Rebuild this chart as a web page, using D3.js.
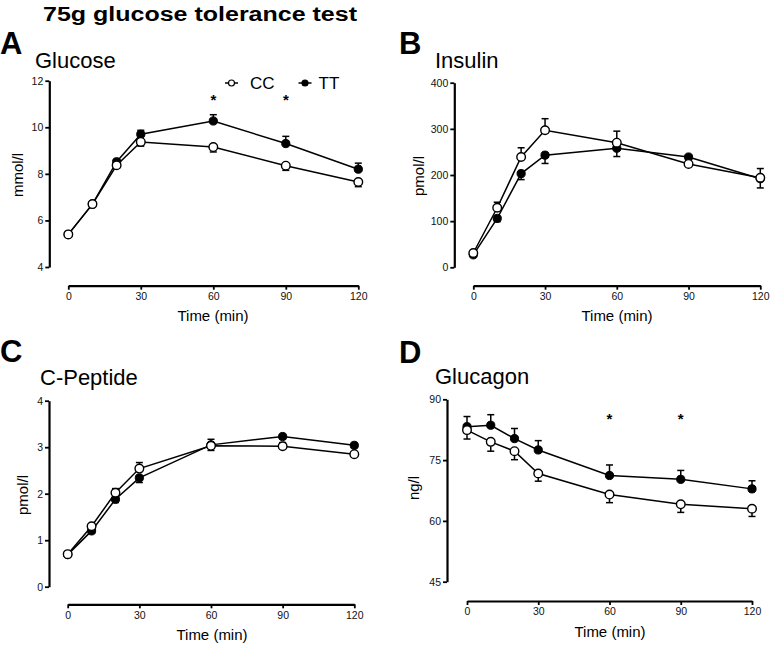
<!DOCTYPE html>
<html><head><meta charset="utf-8">
<script src="https://cdn.jsdelivr.net/npm/d3@7"></script>
<style>
html,body{margin:0;padding:0;background:#fff;}
svg{display:block;font-family:"Liberation Sans",Arial,Helvetica,sans-serif;}
</style></head>
<body><svg id="chart" width="772" height="645"></svg>
<script>
// ---- data ----
const times = [0, 10, 20, 30, 60, 90, 120];
const xTicks = [0, 30, 60, 90, 120];
const seriesNames = ["CC", "TT"];

const glucoseCC    = [5.40, 6.70, 8.37, 9.37, 9.15, 8.35, 7.65];
const glucoseCCErr = [0.05, 0.08, 0.12, 0.18, 0.21, 0.20, 0.20];
const glucoseTT    = [5.40, 6.70, 8.52, 9.70, 10.27, 9.30, 8.20];
const glucoseTTErr = [0.05, 0.08, 0.10, 0.17, 0.27, 0.31, 0.26];
const glucoseTicks = [4, 6, 8, 10, 12];
const glucoseStars = [60, 90];

const insulinCC    = [31, 129, 239, 297, 270, 224, 194];
const insulinCCErr = [3, 12, 20, 25, 25, 6, 20];
const insulinTT    = [27, 106, 203, 243, 258, 239, 192];
const insulinTTErr = [3, 7, 13, 18, 18, 5, 20];
const insulinTicks = [0, 100, 200, 300, 400];

const cpeptideCC    = [0.70, 1.30, 2.02, 2.54, 3.03, 3.02, 2.85];
const cpeptideCCErr = [0.02, 0.04, 0.09, 0.13, 0.14, 0.08, 0.05];
const cpeptideTT    = [0.69, 1.20, 1.88, 2.34, 3.05, 3.23, 3.04];
const cpeptideTTErr = [0.02, 0.04, 0.07, 0.10, 0.12, 0.05, 0.05];
const cpeptideTicks = [0, 1, 2, 3, 4];

const glucagonCC    = [82.4, 79.5, 77.2, 71.7, 66.5, 64.1, 63.0];
const glucagonCCErr = [2.2, 2.3, 2.1, 1.9, 2.0, 2.0, 1.9];
const glucagonTT    = [83.25, 83.6, 80.3, 77.5, 71.2, 70.25, 67.9];
const glucagonTTErr = [2.5, 2.6, 2.5, 2.3, 2.6, 2.2, 2.0];
const glucagonTicks = [45, 60, 75, 90];
const glucagonStars = [60, 90];

// ---- layout ----
const svg = d3.select("#chart");

svg.append("text").attr("x", 200).attr("y", 21).attr("text-anchor", "middle")
  .attr("font-weight", "bold").attr("font-size", 20)
  .attr("textLength", 314).attr("lengthAdjust", "spacingAndGlyphs")
  .text("75g glucose tolerance test");

const panels = [
  { letter: "A", title: "Glucose", unit: "mmol/l", cc: glucoseCC, ccErr: glucoseCCErr, tt: glucoseTT, ttErr: glucoseTTErr,
    ticks: glucoseTicks, stars: glucoseStars, starY: 11.3, ccDir: -1, ttDir: 1,
    yAxisX: 49.3, yTop: 80.7, yBot: 267, xAxisY: 285.7, x0: 68.3, x1: 358.3,
    letterPos: [0, 54], titlePos: [35, 68.3], unitPos: [23, 175], timePos: [213, 321] },
  { letter: "B", title: "Insulin", unit: "pmol/l", cc: insulinCC, ccErr: insulinCCErr, tt: insulinTT, ttErr: insulinTTErr,
    ticks: insulinTicks, stars: [], ccDir: 1, ttDir: -1,
    yAxisX: 454.3, yTop: 82.7, yBot: 267.3, xAxisY: 285.7, x0: 473.3, x1: 760.3,
    letterPos: [399, 54], titlePos: [435, 68.3], unitPos: [424, 176], timePos: [617, 321] },
  { letter: "C", title: "C-Peptide", unit: "pmol/l", cc: cpeptideCC, ccErr: cpeptideCCErr, tt: cpeptideTT, ttErr: cpeptideTTErr,
    ticks: cpeptideTicks, stars: [], ccDir: 1, ttDir: -1,
    yAxisX: 49, yTop: 400.7, yBot: 586.7, xAxisY: 604.3, x0: 67.7, x1: 354.3,
    letterPos: [0, 362], titlePos: [40, 385], unitPos: [28, 495], timePos: [212, 639.5] },
  { letter: "D", title: "Glucagon", unit: "ng/l", cc: glucagonCC, ccErr: glucagonCCErr, tt: glucagonTT, ttErr: glucagonTTErr,
    ticks: glucagonTicks, stars: glucagonStars, starY: 85.9, ccDir: -1, ttDir: 1,
    yAxisX: 447, yTop: 399.3, yBot: 581.7, xAxisY: 601, x0: 467, x1: 752,
    letterPos: [399, 363], titlePos: [435, 384.3], unitPos: [419, 488], timePos: [610, 637] }
];

function drawPanel(p) {
  const g = svg.append("g");
  const y = d3.scaleLinear().domain([p.ticks[0], p.ticks[p.ticks.length - 1]]).range([p.yBot, p.yTop]);
  const x = d3.scaleLinear().domain([0, 120]).range([p.x0, p.x1]);

  g.append("text").attr("x", p.letterPos[0]).attr("y", p.letterPos[1])
    .attr("font-weight", "bold").attr("font-size", 31).text(p.letter);
  g.append("text").attr("x", p.titlePos[0]).attr("y", p.titlePos[1])
    .attr("font-size", 22).text(p.title);
  g.append("text").attr("transform", `translate(${p.unitPos[0]},${p.unitPos[1]}) rotate(-90)`)
    .attr("text-anchor", "middle").attr("font-size", 15).text(p.unit);
  g.append("text").attr("x", p.timePos[0]).attr("y", p.timePos[1])
    .attr("text-anchor", "middle").attr("font-size", 15).text("Time (min)");

  const ya = g.append("g").attr("transform", `translate(${p.yAxisX},0)`)
    .call(d3.axisLeft(y).tickValues(p.ticks).tickFormat(d3.format("~g")).tickSize(4).tickSizeOuter(0).tickPadding(2));
  const xa = g.append("g").attr("transform", `translate(0,${p.xAxisY})`)
    .call(d3.axisBottom(x).tickValues(xTicks).tickFormat(d3.format("~g")).tickSize(4).tickSizeOuter(0).tickPadding(3));
  [ya, xa].forEach(a => {
    a.select(".domain").attr("stroke", "#000").attr("stroke-width", 2.2);
    a.selectAll(".tick line").attr("stroke", "#000").attr("stroke-width", 1.8);
    a.selectAll(".tick text").attr("fill", "#111").attr("font-size", 10.5)
      .attr("font-family", "'Liberation Sans',Arial,sans-serif");
  });

  const line = d3.line().x((d, i) => x(times[i])).y(d => y(d));
  const series = [
    { vals: p.tt, err: p.ttErr, dir: p.ttDir, open: false },
    { vals: p.cc, err: p.ccErr, dir: p.ccDir, open: true }
  ];
  series.forEach(s => {
    g.append("path").datum(s.vals).attr("d", line).attr("fill", "none")
      .attr("stroke", "#000").attr("stroke-width", 1.5);
  });
  series.forEach(s => {
    const eb = g.append("g").attr("stroke", "#000").attr("stroke-width", 1.5);
    s.vals.forEach((v, i) => {
      const cx = x(times[i]), y0 = y(v), y1 = y(v + s.dir * s.err[i]);
      eb.append("line").attr("x1", cx).attr("x2", cx).attr("y1", y0).attr("y2", y1);
      eb.append("line").attr("x1", cx - 3.5).attr("x2", cx + 3.5).attr("y1", y1).attr("y2", y1);
    });
  });
  series.forEach(s => {
    g.append("g").selectAll("circle").data(s.vals).join("circle")
      .attr("cx", (d, i) => x(times[i])).attr("cy", d => y(d))
      .attr("r", s.open ? 4.3 : 4.1)
      .attr("fill", s.open ? "#fff" : "#000")
      .attr("stroke", "#000").attr("stroke-width", s.open ? 1.4 : 1);
  });
  p.stars.forEach(t => {
    g.append("text").attr("x", x(t)).attr("y", y(p.starY) + 8)
      .attr("text-anchor", "middle").attr("font-weight", "bold").attr("font-size", 15).text("*");
  });
}
panels.forEach(drawPanel);

// legend (panel A)
const leg = svg.append("g");
const legendItems = [
  { name: seriesNames[0], x: 225, open: true },
  { name: seriesNames[1], x: 298.5, open: false }
];
legendItems.forEach(it => {
  leg.append("line").attr("x1", it.x).attr("x2", it.x + 13).attr("y1", 83).attr("y2", 83)
    .attr("stroke", "#000").attr("stroke-width", 1.5);
  leg.append("circle").attr("cx", it.x + 6.5).attr("cy", 83).attr("r", 3)
    .attr("fill", it.open ? "#fff" : "#000").attr("stroke", "#000").attr("stroke-width", 1.2);
  leg.append("text").attr("x", it.x + (it.open ? 25 : 20)).attr("y", 88.5).attr("font-size", 17).text(it.name);
});
</script></body></html>
